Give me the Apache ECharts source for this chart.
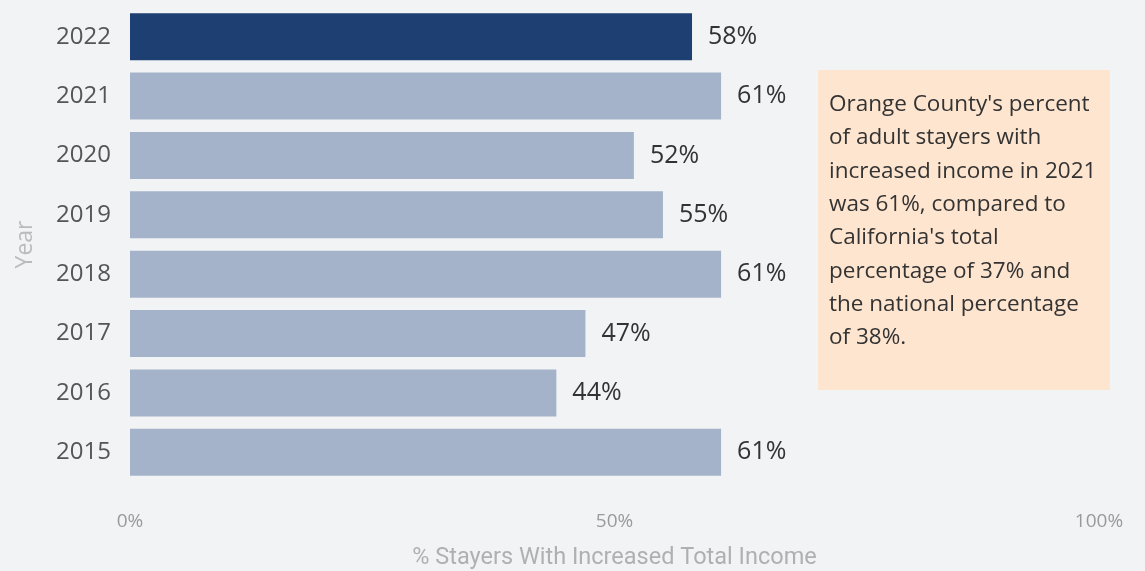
<!DOCTYPE html>
<html>
<head>
<meta charset="utf-8">
<script src="https://cdn.jsdelivr.net/npm/echarts@6/dist/echarts.min.js"></script>
<style>
  html, body { margin: 0; padding: 0; background: #f2f3f5; }
  #main { width: 1145px; height: 571px; }
</style>
</head>
<body>
<div id="main"></div>
<script>
// data
var years = ['2015', '2016', '2017', '2018', '2019', '2020', '2021', '2022'];
var shares = [61, 44, 47, 61, 55, 52, 61, 58];
var xTicks = [0, 50, 100];
var highlightYear = '2022';
var note = "Orange County's percent\nof adult stayers with\nincreased income in 2021\nwas 61%, compared to\nCalifornia's total\npercentage of 37% and\nthe national percentage\nof 38%.";

var myChart = echarts.init(document.getElementById('main'));

var option = {
  backgroundColor: '#f2f3f5',
  animation: false,
  grid: { left: 130, right: 46, top: 7, bottom: 89, outerBoundsMode: 'none', containLabel: false },
  xAxis: {
    type: 'value',
    min: 0,
    max: 100,
    interval: 50,
    splitLine: { show: false },
    axisLine: { show: false },
    axisTick: { show: false },
    axisLabel: {
      margin: 30,
      color: '#9a9a9a',
      fontSize: 19,
      fontFamily: 'Open Sans',
      formatter: function (v) { return xTicks.indexOf(v) >= 0 ? v + '%' : ''; }
    },
    name: '% Stayers With Increased Total Income',
    nameLocation: 'middle',
    nameGap: 64,
    nameTextStyle: { color: '#b0b0b0', fontSize: 23.5, fontFamily: 'Roboto' }
  },
  yAxis: {
    type: 'category',
    data: years,
    axisLine: { show: false },
    axisTick: { show: false },
    axisLabel: { color: '#555', fontSize: 24, margin: 19, fontFamily: 'Open Sans' },
    name: 'Year',
    nameLocation: 'middle',
    nameGap: 93,
    nameTextStyle: { color: '#bbbbbb', fontSize: 23, fontFamily: 'Open Sans' }
  },
  series: [{
    type: 'bar',
    barCategoryGap: '21%',
    data: shares.map(function (v, i) {
      return {
        value: v,
        itemStyle: { color: years[i] === highlightYear ? '#1d3f71' : '#a4b3ca' }
      };
    }),
    label: {
      show: true,
      position: 'right',
      distance: 16,
      color: '#333',
      fontSize: 25,
      fontFamily: 'Open Sans',
      formatter: '{c}%'
    }
  }],
  graphic: [{
    type: 'group',
    left: 818,
    top: 70,
    children: [{
      type: 'rect',
      shape: { x: 0, y: 0, width: 292, height: 320 },
      style: { fill: '#fee5cf' }
    }, {
      type: 'text',
      x: 11,
      y: 18,
      style: {
        text: note,
        fill: '#333',
        fontSize: 22.5,
        fontFamily: 'Open Sans',
        lineHeight: 33.3
      }
    }]
  }]
};

myChart.setOption(option);
</script>
</body>
</html>
